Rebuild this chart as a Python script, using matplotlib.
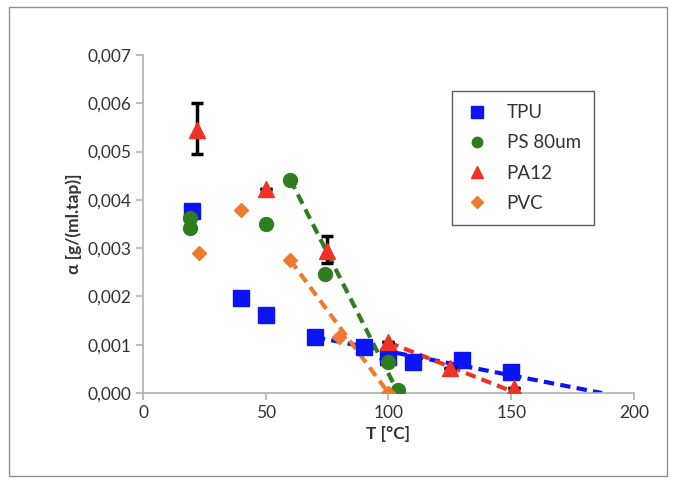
import matplotlib
matplotlib.use("Agg")
from matplotlib import pyplot as plt
from matplotlib.patches import Rectangle
from matplotlib.ticker import FuncFormatter
import numpy as np

plt.rcParams["font.family"] = ["Lato", "DejaVu Sans"]

# measured data
tpu_T = [20, 40, 50, 70, 90, 100, 110, 130, 150]
tpu_a = [0.00377, 0.00197, 0.00161, 0.00116, 0.00095, 0.00075, 0.00065, 0.00068, 0.00044]
ps_T = [19, 19, 50, 60, 74, 100, 104]
ps_a = [0.00362, 0.00342, 0.0035, 0.00442, 0.00246, 0.00065, 0.00007]
pa_T = [22, 50, 75, 100, 125, 151]
pa_a = [0.00545, 0.00422, 0.00295, 0.00105, 0.00052, 0.0001]
pa_err_lo = [0.0005, 0, 0.00025, 0, 0, 0]
pa_err_hi = [0.00055, 0, 0.0003, 0, 0, 0]
pvc_T = [23, 40, 60, 80, 100]
pvc_a = [0.0029, 0.0038, 0.00275, 0.00115, 0.0]

# linear fits (dashed)
tpu_fit_T = [70, 187]
tpu_fit_a = [0.00116, 0.0]
ps_fit_T = [60, 104]
ps_fit_a = [0.00442, 0.0]
pa_fit_T = [100, 152]
pa_fit_a = [0.00105, 0.0]
pvc_fit_T = [60, 100]
pvc_fit_a = [0.00275, 0.0]

c_tpu = "#0a14f5"
c_ps = "#2e7d1e"
c_pa = "#f03226"
c_pvc = "#ef7a2e"

fig = plt.figure(figsize=(6.73, 4.83), dpi=100)
ax = fig.add_axes([0.2125, 0.1863, 0.7295, 0.6997])

ax.plot(tpu_fit_T, tpu_fit_a, color=c_tpu, lw=3, dashes=(2.5, 1.5), zorder=2)
ax.plot(ps_fit_T, ps_fit_a, color=c_ps, lw=3, dashes=(2.5, 1.5), zorder=2)
ax.plot(pa_fit_T, pa_fit_a, color=c_pa, lw=3, dashes=(2.5, 1.5), zorder=2)
ax.plot(pvc_fit_T, pvc_fit_a, color=c_pvc, lw=3, dashes=(2.5, 1.5), zorder=2)

ax.plot(tpu_T, tpu_a, "s", color=c_tpu, ms=12, ls="none", label="TPU", zorder=3)
ax.plot(ps_T, ps_a, "o", color=c_ps, ms=10, ls="none", label="PS 80um", zorder=3)
ax.errorbar(pa_T, pa_a, yerr=[pa_err_lo, pa_err_hi], fmt="none", ecolor="black",
            elinewidth=2.5, capsize=4, capthick=2.5, zorder=3)
ax.plot(pa_T, pa_a, "^", color=c_pa, ms=11, ls="none", label="PA12", zorder=4)
ax.plot(pvc_T, pvc_a, "D", color=c_pvc, ms=7.5, ls="none", label="PVC", zorder=3)

ax.set_xlim(0, 200)
ax.set_ylim(0, 0.007)
ax.set_xticks([0, 50, 100, 150, 200])
ax.set_yticks(np.arange(0, 0.0071, 0.001))
ax.yaxis.set_major_formatter(FuncFormatter(lambda v, p: f"{v:.3f}".replace(".", ",")))

for s in ["top", "right"]:
    ax.spines[s].set_visible(False)
for s in ["left", "bottom"]:
    ax.spines[s].set_color("#b0b0b0")
    ax.spines[s].set_linewidth(1.2)
ax.tick_params(axis="both", colors="#b0b0b0", labelcolor="#333333", labelsize=12.5,
               length=5, width=1.2, direction="out")

ax.set_xlabel("T [°C]", fontsize=12.5, fontweight="bold", color="#333333")
ax.set_ylabel("α [g/(ml.tap)]", fontsize=12.5, fontweight="bold", color="#333333")

leg = ax.legend(loc="upper left", bbox_to_anchor=(0.63, 0.893), fontsize=13.5,
                frameon=True, fancybox=False, edgecolor="#333333", markerscale=0.75,
                handlelength=1.2, handletextpad=1.0, labelspacing=0.7, borderpad=0.7,
                borderaxespad=0)
leg.get_frame().set_linewidth(1.0)
for t in leg.get_texts():
    t.set_color("#333333")

fig.patches.append(Rectangle((9 / 673, 7 / 483), 658 / 673, 469 / 483,
                             transform=fig.transFigure, fill=False,
                             edgecolor="#909090", lw=1.0))

fig.savefig("out.png", dpi=100)
